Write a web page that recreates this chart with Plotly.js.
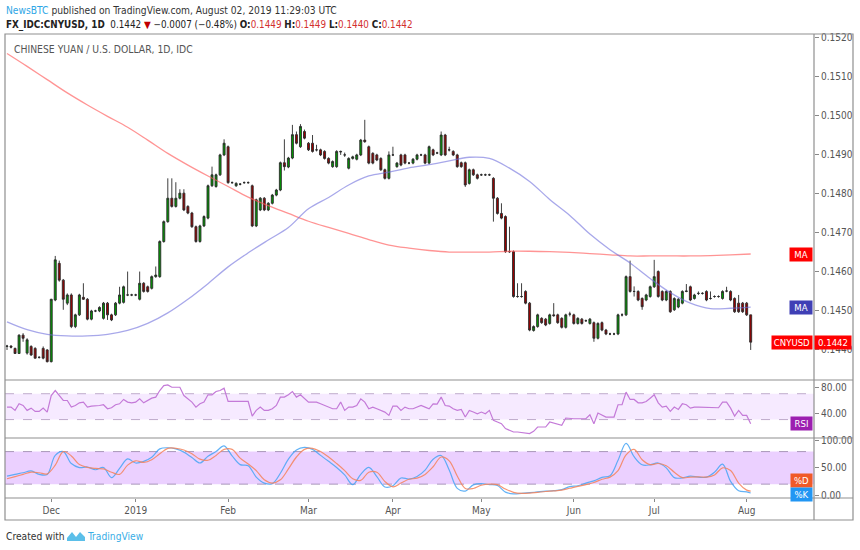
<!DOCTYPE html>
<html><head><meta charset="utf-8">
<script src="https://cdn.plot.ly/plotly-3.0.1.min.js"></script>
<style>body{margin:0;background:#fff}#chart{width:860px;height:550px}</style>
</head><body><div id="chart"></div>
<script>
// ---------------- DATA ----------------
const firstSession = '2018-11-16';
const lastSession = '2019-08-02';

const open = [
.14409,.14410,.14404,.14391,.14438,.14392,.14409,.14404,.14381,.14404,
.14400,.14370,.14528,.14622,.14579,.14520,.14541,.14460,.14490,.14535,
.14530,.14479,.14500,.14500,.14481,.14520,.14490,.14490,.14520,.14522,
.14541,.14541,.14541,.14530,.14571,.14562,.14558,.14588,.14588,.14678,
.14729,.14789,.14768,.14789,.14802,.14768,.14751,.14716,.14678,.14718,
.14738,.14821,.14819,.14849,.14900,.14921,.14829,.14821,.14825,.14829,
.14829,.14821,.14718,.14759,.14789,.14759,.14776,.14797,.14810,.14880,
.14869,.14892,.14952,.14921,.14960,.14930,.14930,.14913,.14913,.14909,
.14891,.14870,.14870,.14909,.14900,.14866,.14891,.14889,.14900,.14938,
.14921,.14904,.14900,.14891,.14862,.14840,.14900,.14870,.14900,.14900,
.14879,.14879,.14889,.14900,.14900,.14879,.14913,.14905,.14900,.14951,
.14913,.14909,.14900,.14880,.14880,.14827,.14862,.14849,.14849,.14849,
.14849,.14840,.14789,.14750,.14742,.14652,.14652,.14537,.14537,.14550,
.14520,.14450,.14460,.14481,.14479,.14468,.14490,.14490,.14481,.14458,
.14492,.14490,.14468,.14479,.14475,.14468,.14470,.14430,.14470,.14451,
.14441,.14441,.14441,.14490,.14490,.14588,.14550,.14550,.14532,.14528,
.14537,.14562,.14601,.14550,.14528,.14550,.14503,.14510,.14520,.14550,
.14562,.14532,.14545,.14545,.14550,.14532,.14537,.14537,.14532,.14551,
.14550,.14532,.14520,.14520,.14520,.14490];
const high = [
.14413,.14412,.14406,.14440,.14443,.14430,.14412,.14407,.14384,.14409,
.14402,.14531,.14641,.14629,.14582,.14545,.14545,.14493,.14544,.14571,
.14533,.14503,.14503,.14512,.14523,.14523,.14493,.14523,.14562,.14565,
.14601,.14544,.14544,.14601,.14574,.14565,.14591,.14614,.14681,.14732,
.14840,.14840,.14830,.14812,.14812,.14771,.14754,.14719,.14721,.14745,
.14824,.14870,.14852,.14903,.14940,.14924,.14832,.14830,.14828,.14832,
.14832,.14824,.14788,.14792,.14792,.14779,.14800,.14813,.14883,.14940,
.14895,.14977,.14960,.14979,.14965,.14933,.14951,.14926,.14916,.14912,
.14894,.14886,.14912,.14911,.14906,.14894,.14898,.14903,.14941,.14990,
.14924,.14907,.14903,.14894,.14865,.14909,.14921,.14882,.14903,.14903,
.14882,.14892,.14903,.14903,.14903,.14924,.14916,.14908,.14960,.14954,
.14921,.14912,.14903,.14883,.14883,.14865,.14865,.14852,.14852,.14852,
.14852,.14843,.14792,.14776,.14745,.14716,.14655,.14571,.14571,.14553,
.14523,.14463,.14493,.14484,.14482,.14493,.14520,.14493,.14484,.14493,
.14498,.14493,.14484,.14482,.14478,.14482,.14473,.14471,.14473,.14454,
.14444,.14444,.14493,.14494,.14591,.14629,.14563,.14553,.14535,.14544,
.14565,.14631,.14604,.14553,.14553,.14553,.14535,.14533,.14553,.14569,
.14565,.14544,.14550,.14548,.14553,.14550,.14540,.14540,.14553,.14562,
.14553,.14535,.14541,.14523,.14523,.14490];
const low = [
.14400,.14404,.14390,.14390,.14421,.14388,.14385,.14378,.14378,.14376,
.14368,.14368,.14525,.14575,.14503,.14515,.14456,.14456,.14487,.14528,
.14476,.14476,.14497,.14497,.14478,.14477,.14474,.14487,.14517,.14519,
.14538,.14538,.14538,.14527,.14547,.14547,.14555,.14585,.14585,.14675,
.14726,.14765,.14765,.14786,.14756,.14748,.14713,.14675,.14675,.14715,
.14735,.14818,.14816,.14846,.14897,.14826,.14826,.14818,.14822,.14826,
.14826,.14715,.14715,.14756,.14756,.14756,.14773,.14794,.14807,.14860,
.14866,.14889,.14927,.14918,.14940,.14910,.14906,.14909,.14897,.14888,
.14876,.14867,.14867,.14900,.14895,.14863,.14888,.14886,.14897,.14931,
.14876,.14876,.14884,.14859,.14837,.14837,.14897,.14867,.14871,.14876,
.14876,.14876,.14886,.14897,.14876,.14876,.14897,.14902,.14897,.14897,
.14909,.14897,.14867,.14867,.14818,.14824,.14846,.14837,.14846,.14846,
.14846,.14729,.14747,.14735,.14649,.14649,.14534,.14534,.14534,.14517,
.14448,.14447,.14457,.14467,.14461,.14465,.14485,.14467,.14455,.14455,
.14486,.14465,.14465,.14465,.14472,.14465,.14421,.14427,.14448,.14438,
.14438,.14438,.14438,.14486,.14487,.14547,.14537,.14525,.14503,.14525,
.14534,.14559,.14534,.14525,.14525,.14495,.14500,.14507,.14517,.14548,
.14525,.14529,.14541,.14542,.14525,.14529,.14534,.14534,.14529,.14548,
.14525,.14495,.14495,.14495,.14487,.14400];
const close = [
.14410,.14407,.14391,.14438,.14430,.14426,.14387,.14379,.14381,.14379,
.14370,.14530,.14631,.14579,.14530,.14541,.14460,.14490,.14541,.14530,
.14479,.14500,.14500,.14509,.14520,.14490,.14477,.14520,.14541,.14562,
.14541,.14541,.14541,.14571,.14550,.14550,.14588,.14592,.14678,.14729,
.14789,.14768,.14789,.14802,.14759,.14751,.14716,.14678,.14718,.14742,
.14821,.14849,.14849,.14900,.14930,.14829,.14829,.14827,.14825,.14829,
.14829,.14718,.14785,.14789,.14759,.14776,.14797,.14810,.14880,.14870,
.14892,.14952,.14930,.14973,.14943,.14913,.14909,.14913,.14900,.14891,
.14879,.14883,.14909,.14908,.14900,.14891,.14895,.14900,.14938,.14934,
.14879,.14879,.14887,.14862,.14840,.14900,.14900,.14879,.14874,.14879,
.14879,.14889,.14900,.14900,.14879,.14921,.14900,.14905,.14951,.14900,
.14913,.14900,.14870,.14870,.14823,.14862,.14849,.14840,.14849,.14849,
.14849,.14789,.14750,.14738,.14652,.14652,.14537,.14537,.14537,.14520,
.14451,.14460,.14490,.14470,.14464,.14490,.14488,.14470,.14458,.14490,
.14492,.14468,.14481,.14468,.14475,.14479,.14430,.14468,.14451,.14441,
.14441,.14441,.14490,.14490,.14588,.14550,.14550,.14528,.14511,.14541,
.14562,.14588,.14537,.14528,.14550,.14498,.14532,.14530,.14550,.14551,
.14528,.14541,.14545,.14545,.14528,.14532,.14537,.14537,.14550,.14551,
.14528,.14498,.14498,.14498,.14490,.14420];

// moving averages, read every 5th session
const maSlow = [.15160,.15127,.15093,.15059,.15028,.14999,.14971,.14938,.14904,.14874,
.14846,.14819,.14792,.14770,.14750,.14730,.14714,.14699,.14683,.14669,
.14661,.14655,.14651,.14651,.14651,.14653,.14653,.14652,.14650,.14647,
.14644,.14641,.14641,.14641,.14641,.14642,.14644,.14646];
const maFast = [.14472,.14452,.14440,.14436,.14436,.14440,.14450,.14468,.14495,.14530,
.14570,.14613,.14649,.14682,.14714,.14762,.14791,.14823,.14846,.14856,
.14867,.14875,.14885,.14894,.14891,.14866,.14832,.14786,.14745,.14697,
.14657,.14623,.14583,.14547,.14520,.14506,.14507,.14510];

// RSI, every session
const rsi = [
49.3,49.3,44.2,54.4,51.8,44.2,47.7,42.6,42.6,47.7,
41.6,67.2,74.9,66.2,59.5,59.5,49.3,51.8,55.9,57,
49.3,50.8,50.8,51.8,52.9,46.7,48.3,52.9,54.4,61.1,
57,55.9,57,62.1,55.9,59.5,63.1,64.7,74.9,82.6,
83.6,80,80,80,67.2,62.1,57,49.3,54.4,57,
68.3,68.3,73.4,74.9,78.5,58,58,58,58,58,
58,35.4,44.2,49.3,44.2,44.2,46.7,51.8,64.7,64.7,
68.3,73.4,64.7,68.3,62.1,57,57,57,54.4,51.8,
49.3,46.7,46.7,57,44.2,49.3,49.3,51.8,62.1,57,
46.7,49.3,46.7,44.2,41.6,36.5,50.8,50.8,44.2,49.3,
46.7,46.7,49.3,51.8,49.3,46.7,54.4,54,64.7,51.8,
50.8,46.7,44.2,45.7,33.9,44.2,41.6,39,41.6,39,
44.2,28.8,26.2,23.6,16,13.4,10.8,10.8,9.8,9.8,
8.3,11.8,18.5,18.5,18.5,26.2,24.7,22.1,21.1,32.4,
31.3,31.3,31.3,31.3,31.3,37.5,23.6,40.1,36.5,33.9,
33.9,33.9,52.9,52.9,72.4,61.1,61.1,55.9,55.9,58,
63.1,68.3,55.9,49.3,50.8,42.6,49.3,45.7,54.4,52.9,
47.7,49.3,49.3,49.3,48.8,48.3,48.3,48.3,57,57,
47.7,35.4,44.2,36.5,36.5,23.6];

// Stochastic, every 2nd session plus the last one
const stochK = [
34.8,38,41,44.3,38,38,73,80,58,50.6,
51.6,46.5,50.6,32,49,66.5,59,62,69.6,85,
87,85,79,69,59,71.5,80,90.5,72,56,
54,33,22,21,40,66,83,87.6,84,73,
62,50.6,37,19,38,51,34,14.8,17,31.3,
29.4,34,45.8,66,72.7,46,12.2,7.3,18.7,20.8,
19.2,17.5,5.3,2,3.1,4.3,5.7,7,8,10,
15.4,17,22,26,32.6,35.6,64,95,70.5,55.6,
55.6,59,50,32,31.6,34.7,32.9,32.9,42,57,
25,7.8,5.8,3.8];
const stochD = [
30,34,38,42,41,39,55,80,72,56,
51,49,48,42,38,55,63,60,65,76,
86,86,83,76,66,64,73,84,84,68,
57,45,28,22,28,48,70,84,86,80,
70,58,45,30,27,42,42,25,15,22,
29,31,38,52,70,63,35,12,12,18,
20,19,11,5,3,3.5,5,6.5,7.5,9,
12.5,16,19,23,29,33,45,74,84,65,
56,58,54,42,32,33,33.5,33,37,50,
45,22,9,7];

const monthStarts = ['2018-12-03','2019-01-01','2019-02-01','2019-03-01','2019-04-01','2019-05-01','2019-06-03','2019-07-01','2019-08-01'];
const monthLabels = ['Dec','2019','Feb','Mar','Apr','May','Jun','Jul','Aug'];
const priceTicks = [0.144,0.145,0.146,0.147,0.148,0.149,0.150,0.151,0.152];
const lastClose = 0.1442;

// ---------------- BUILD ----------------
function sessions(a, b) {
  const out = []; const d = new Date(a + 'T00:00:00Z'); const e = new Date(b + 'T00:00:00Z');
  while (d <= e) { const w = d.getUTCDay(); if (w !== 0 && w !== 6) out.push(d.toISOString().slice(0, 10)); d.setUTCDate(d.getUTCDate() + 1); }
  return out;
}
const dates = sessions(firstSession, lastSession);
const n = dates.length;
const sample = step => dates.filter((_, i) => i % step === 0 || i === n - 1);
const maDates = sample(5);
const stDates = sample(2);

const L = 5, R = 814, T = 34, B = 498;
const px = x => (x - L) / (R - L);
const py = y => (B - y) / (B - T);

const COND = "'DejaVu Sans Condensed','DejaVu Sans',sans-serif";
const tickFont = {family: COND, size: 10, color: '#555'};

const traces = [
  {type:'scatter', mode:'lines', x: maDates, y: maSlow, xaxis:'x', yaxis:'y',
   line:{color:'rgba(255,90,90,0.65)', width:1.3, shape:'spline'}, hoverinfo:'skip'},
  {type:'scatter', mode:'lines', x: maDates, y: maFast, xaxis:'x', yaxis:'y',
   line:{color:'rgba(110,110,220,0.6)', width:1.3, shape:'spline'}, hoverinfo:'skip'},
  {type:'candlestick', x: dates, open, high, low, close, xaxis:'x', yaxis:'y',
   increasing:{line:{color:'#2a2a2a', width:0.9}, fillcolor:'#009a00'},
   decreasing:{line:{color:'#2a2a2a', width:0.9}, fillcolor:'#9a0000'},
   whiskerwidth:0, hoverinfo:'skip'},
  {type:'scatter', mode:'lines', x: dates, y: rsi, xaxis:'x', yaxis:'y2',
   line:{color:'#c47ad8', width:1.2}, hoverinfo:'skip'},
  {type:'scatter', mode:'lines', x: stDates, y: stochK, xaxis:'x', yaxis:'y3',
   line:{color:'rgba(70,165,245,0.85)', width:1.2, shape:'spline'}, hoverinfo:'skip'},
  {type:'scatter', mode:'lines', x: stDates, y: stochD, xaxis:'x', yaxis:'y3',
   line:{color:'rgba(245,130,90,0.85)', width:1.2, shape:'spline'}, hoverinfo:'skip'}
];

const frame = '#8f8f8f';
const shapes = [
  // indicator bands
  {type:'rect', xref:'paper', yref:'y2', x0:0, x1:1, y0:30, y1:70, fillcolor:'rgba(153,21,255,0.09)', line:{width:0}, layer:'below'},
  {type:'line', xref:'paper', yref:'y2', x0:0, x1:1, y0:70, y1:70, line:{color:'rgba(140,110,160,0.55)', width:1, dash:'dash'}, layer:'below'},
  {type:'line', xref:'paper', yref:'y2', x0:0, x1:1, y0:30, y1:30, line:{color:'rgba(140,110,160,0.55)', width:1, dash:'dash'}, layer:'below'},
  {type:'rect', xref:'paper', yref:'y3', x0:0, x1:1, y0:20, y1:80, fillcolor:'rgba(153,21,255,0.2)', line:{width:0}, layer:'below'},
  {type:'line', xref:'paper', yref:'y3', x0:0, x1:1, y0:80, y1:80, line:{color:'rgba(120,100,140,0.6)', width:1, dash:'dash'}, layer:'below'},
  {type:'line', xref:'paper', yref:'y3', x0:0, x1:1, y0:20, y1:20, line:{color:'rgba(120,100,140,0.6)', width:1, dash:'dash'}, layer:'below'},
  // frame
  {type:'rect', xref:'paper', yref:'paper', x0:px(5), x1:px(853), y0:py(520), y1:py(34), line:{color:frame, width:1.2}},
  {type:'line', xref:'paper', yref:'paper', x0:px(5), x1:px(853), y0:py(380), y1:py(380), line:{color:frame, width:1.2}},
  {type:'line', xref:'paper', yref:'paper', x0:px(5), x1:px(853), y0:py(438), y1:py(438), line:{color:frame, width:1.2}},
  {type:'line', xref:'paper', yref:'paper', x0:px(5), x1:px(853), y0:py(498), y1:py(498), line:{color:frame, width:1.2}},
  {type:'line', xref:'paper', yref:'paper', x0:px(814), x1:px(814), y0:py(520), y1:py(34), line:{color:frame, width:1.2}},
  // TradingView logo mark
  {type:'path', xref:'paper', yref:'paper', fillcolor:'#5bbfe9', line:{width:0},
   path:`M${px(67)},${py(541)} L${px(67)},${py(538)} L${px(72)},${py(532)} L${px(76)},${py(537)} L${px(80)},${py(532)} L${px(85)},${py(537)} L${px(85)},${py(541)} Z`}
];

const lab = (text, y, yref, bg, right, w) => ({
  text, xref:'paper', yref, x: right ? px(814.5) : px(812.5), y, xanchor: right ? 'left' : 'right', yanchor:'middle',
  showarrow:false, bgcolor:bg, borderpad:1, width:w, height:11,
  font:{family:COND, size:9.5, color:'#fff'}
});

const red = '#d32f2f';
const annotations = [
  {text:'<span style="color:#2ea6e6">NewsBTC</span> published on TradingView.com, August 02, 2019 11:29:03 UTC',
   xref:'paper', yref:'paper', x:px(4), y:py(10), xanchor:'left', yanchor:'middle', showarrow:false,
   font:{family:COND, size:10.2, color:'#333'}},
  {text:`<b>FX_IDC:CNYUSD, 1D</b>  0.1442 <span style="color:#c00000">▼</span> −0.0007 (−0.48%) <b>O:</b><span style="color:${red}">0.1449</span> <b>H:</b><span style="color:${red}">0.1449</span> <b>L:</b><span style="color:${red}">0.1440</span> <b>C:</b><span style="color:${red}">0.1442</span>`,
   xref:'paper', yref:'paper', x:px(4), y:py(25), xanchor:'left', yanchor:'middle', showarrow:false,
   font:{family:COND, size:9.8, color:'#222'}},
  {text:'CHINESE YUAN / U.S. DOLLAR, 1D, IDC', xref:'paper', yref:'paper', x:px(12), y:py(49), xanchor:'left', yanchor:'middle', showarrow:false,
   font:{family:COND, size:10.3, color:'#555'}},
  {text:'Created with', xref:'paper', yref:'paper', x:px(4), y:py(536), xanchor:'left', yanchor:'middle', showarrow:false,
   font:{family:COND, size:10.2, color:'#333'}},
  {text:'TradingView', xref:'paper', yref:'paper', x:px(85), y:py(536), xanchor:'left', yanchor:'middle', showarrow:false,
   font:{family:COND, size:10.2, color:'#3aaee6'}},
  lab('MA', maSlow[maSlow.length - 1], 'y', '#ff0000', false, 20),
  lab('MA', maFast[maFast.length - 1], 'y', '#3f3fb5', false, 20),
  lab('CNYUSD', lastClose, 'y', '#ff0000', false, 38),
  lab(lastClose.toFixed(4), lastClose, 'y', '#ff0000', true, 34),
  lab('RSI', rsi[rsi.length - 1], 'y2', '#9c1fb0', false, 19),
  lab('%D', 26, 'y3', '#f05a28', false, 19),
  lab('%K', 1.5, 'y3', '#2196f3', false, 19)
];

const layout = {
  width: 860, height: 550,
  margin: {l: L, r: 860 - R, t: T, b: 550 - B, pad: 0},
  paper_bgcolor: '#fff', plot_bgcolor: '#fff',
  showlegend: false, hovermode: false,
  xaxis: {type:'category', categoryorder:'array', categoryarray: dates, range:[-0.5, 200.75],
          anchor:'y3', tickvals: monthStarts, ticktext: monthLabels, ticks:'outside', ticklen:3,
          tickcolor:'#888', tickfont: tickFont, showgrid:false, zeroline:false, showline:false,
          rangeslider:{visible:false}, automargin:false, fixedrange:true},
  yaxis: {domain:[py(380), 1], range:[0.14323, 0.15210], side:'right', anchor:'x',
          tickvals: priceTicks, tickformat:'.4f', ticks:'outside', ticklen:4, tickcolor:'#888',
          tickfont: tickFont, showgrid:false, zeroline:false, showline:false, automargin:false, fixedrange:true},
  yaxis2: {domain:[py(438), py(380)], range:[1.5, 91.2], side:'right', anchor:'x',
           tickvals:[40, 80], ticktext:['40.00','80.00'], ticks:'outside', ticklen:4, tickcolor:'#888',
           tickfont: tickFont, showgrid:false, zeroline:false, showline:false, automargin:false, fixedrange:true},
  yaxis3: {domain:[0, py(438)], range:[-5.5, 105], side:'right', anchor:'x',
           tickvals:[0, 50, 100], ticktext:['0.00','50.00','100.00'], ticks:'outside', ticklen:4, tickcolor:'#888',
           tickfont: tickFont, showgrid:false, zeroline:false, showline:false, automargin:false, fixedrange:true},
  shapes, annotations
};

Plotly.newPlot('chart', traces, layout, {displayModeBar:false, staticPlot:true});
</script>
</body></html>
